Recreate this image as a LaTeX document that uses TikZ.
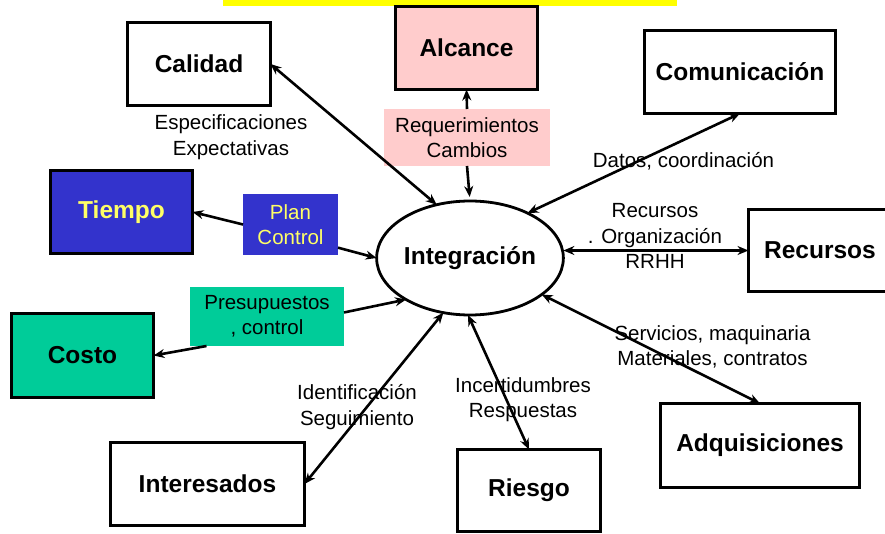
\documentclass[tikz,border=0pt]{standalone}
\usepackage{fontspec}
\setmainfont{Liberation Sans}
\usetikzlibrary{shapes.geometric,arrows.meta}
\definecolor{pinkfill}{HTML}{FFCCCC}
\definecolor{bluefill}{HTML}{3333CC}
\definecolor{tealfill}{HTML}{00CC99}
\definecolor{yelbar}{HTML}{FFFF00}
\definecolor{yeltext}{HTML}{FFFF66}
\tikzset{
  box/.style={draw=black, line width=3.2pt, fill=white, inner sep=0pt, outer sep=0pt,
    font=\fontsize{24.5}{27}\selectfont\bfseries, align=center},
  lbl/.style={inner sep=0pt, outer sep=0pt, align=center, font=\fontsize{20.5}{25.5}\selectfont},
  arr/.style={line width=2.6pt, -{Stealth[length=11pt,width=9pt]}},
  darr/.style={line width=2.6pt, {Stealth[length=11pt,width=9pt]}-{Stealth[length=11pt,width=9pt]}},
}
\begin{document}
\begin{tikzpicture}[x=1pt,y=-1pt]
\useasboundingbox (0,0) rectangle (885,534);
\fill[yelbar] (223,-10) rectangle (677,6);
% boxes
\node[box, minimum width=143pt, minimum height=83pt] (cal) at (199,64) {Calidad};
\node[box, fill=pinkfill, minimum width=142pt, minimum height=83pt] (alc) at (466.5,48) {Alcance};
\node[box, minimum width=191pt, minimum height=83pt] (com) at (740,72) {Comunicación};
\node[box, minimum width=143pt, minimum height=82pt] (rec) at (820,250.5) {Recursos};
\node[box, fill=bluefill, text=yeltext, minimum width=142pt, minimum height=83pt] (tie) at (121.5,212) {Tiempo};
\node[box, fill=tealfill, minimum width=142pt, minimum height=84pt] (cos) at (82.5,355.5) {Costo};
\node[box, minimum width=194pt, minimum height=83pt] (ints) at (207.5,484) {Interesados};
\node[box, minimum width=143pt, minimum height=82pt] (ries) at (529,490.5) {Riesgo};
\node[box, minimum width=199pt, minimum height=84pt] (adq) at (760,445.5) {Adquisiciones};
\node[ellipse, draw=black, line width=2.8pt, fill=white, minimum width=182pt, minimum height=114pt,
  inner sep=0pt, outer sep=0pt, font=\fontsize{24.5}{27}\selectfont\bfseries] (int) at (470,258) {Integración};
% filled labels
\node[lbl, fill=bluefill, text=yeltext, minimum width=95pt, minimum height=61pt] (plan) at (290.5,224.5) {Plan\\Control};
\node[lbl, fill=pinkfill, minimum width=166pt, minimum height=57pt] (req) at (467,137.5) {Requerimientos\\Cambios};
\node[lbl, fill=tealfill, minimum width=154pt, minimum height=59pt] (pres) at (267,316.5) {Presupuestos\\, control};
% plain labels
\node[lbl] (tesp) at (231,137) {Especificaciones\\Expectativas};
\node[lbl] (tdat) at (683.5,161) {Datos, coordinación};
\node[lbl] (trec) at (655,236) {Recursos\\. Organización\\RRHH};
\node[lbl] (tide) at (357,407) {Identificación\\Seguimiento};
\node[lbl] (tinc) at (523,399.5) {Incertidumbres\\Respuestas};
\node[lbl] (tser) at (712.5,347) {Servicios, maquinaria\\Materiales, contratos};
% connectors
\draw[darr] (cal.east) -- (int.122);
\draw[arr] (req.north) -- (alc.south);
\draw[arr, shorten >=4pt] (req.south) -- (int.north);
\draw[darr] (com.south) -- (int.38);
\draw[darr] (rec.west -| int.east) -- (rec.west);
\draw[arr] (plan.west) -- (tie.east);
\draw[arr] (plan.-26) -- (int.west);
\draw[arr] (pres.206) -- (cos.east);
\draw[arr] (pres.3) -- (int.213);
\draw[darr] (ints.east) -- (int.244);
\draw[darr] (int.268) -- (ries.north);
\draw[darr] (int.-27) -- (adq.north);
\end{tikzpicture}
\end{document}
